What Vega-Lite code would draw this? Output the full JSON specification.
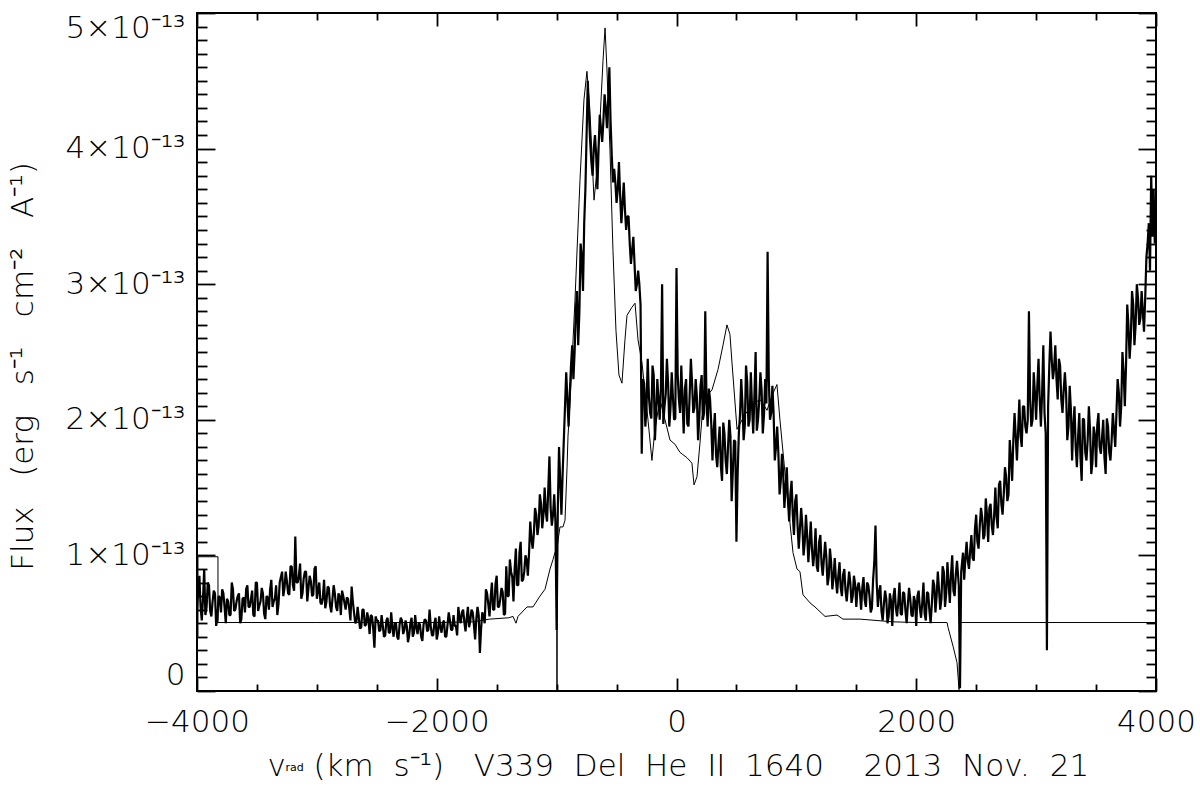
{
"$schema": "https://vega.github.io/schema/vega-lite/v6.json",
"width": 959, "height": 678,
"autosize": {"type": "none"},
"padding": {"left": 197, "top": 13, "right": 44, "bottom": 106},
"background": "white",
"config": {"view": {"stroke": "black", "strokeWidth": 2},
 "axis": {"grid": false, "domain": false, "tickColor": "black", "tickWidth": 1.8,
  "labelFont": "DejaVu Sans", "labelFontSize": 31, "labelFontWeight": 200, "labelColor": "black", "labelOverlap": false,
  "titleFont": "DejaVu Sans", "titleFontSize": 31, "titleFontWeight": 200, "titleColor": "black"}},
"datasets": {
"thick": [
{"v":-4000,"f":0.60},{"v":-3990,"f":0.75},{"v":-3980,"f":0.85},{"v":-3970,"f":0.62},{"v":-3960,"f":0.52},{"v":-3950,"f":0.68},{"v":-3940,"f":0.90},{"v":-3930,"f":0.56},{"v":-3920,"f":0.62},{"v":-3910,"f":0.80},
{"v":-3900,"f":0.78},{"v":-3890,"f":0.59},{"v":-3880,"f":0.55},{"v":-3870,"f":0.66},{"v":-3860,"f":0.74},{"v":-3850,"f":0.72},{"v":-3840,"f":0.48},{"v":-3830,"f":0.53},{"v":-3820,"f":0.70},{"v":-3810,"f":0.69},
{"v":-3800,"f":0.58},{"v":-3790,"f":0.75},{"v":-3780,"f":0.72},{"v":-3770,"f":0.62},{"v":-3760,"f":0.50},{"v":-3750,"f":0.68},{"v":-3740,"f":0.66},{"v":-3730,"f":0.56},{"v":-3720,"f":0.56},{"v":-3710,"f":0.80},
{"v":-3700,"f":0.75},{"v":-3690,"f":0.59},{"v":-3680,"f":0.60},{"v":-3670,"f":0.66},{"v":-3660,"f":0.70},{"v":-3650,"f":0.72},{"v":-3640,"f":0.50},{"v":-3630,"f":0.53},{"v":-3620,"f":0.68},{"v":-3610,"f":0.69},
{"v":-3600,"f":0.58},{"v":-3590,"f":0.75},{"v":-3580,"f":0.78},{"v":-3570,"f":0.62},{"v":-3560,"f":0.62},{"v":-3550,"f":0.68},{"v":-3540,"f":0.74},{"v":-3530,"f":0.56},{"v":-3520,"f":0.55},{"v":-3510,"f":0.80},
{"v":-3500,"f":0.80},{"v":-3490,"f":0.59},{"v":-3480,"f":0.63},{"v":-3470,"f":0.66},{"v":-3460,"f":0.76},{"v":-3450,"f":0.72},{"v":-3440,"f":0.57},{"v":-3430,"f":0.53},{"v":-3420,"f":0.70},{"v":-3410,"f":0.69},
{"v":-3400,"f":0.60},{"v":-3390,"f":0.75},{"v":-3380,"f":0.82},{"v":-3370,"f":0.62},{"v":-3360,"f":0.66},{"v":-3350,"f":0.68},{"v":-3340,"f":0.78},{"v":-3330,"f":0.56},{"v":-3320,"f":0.64},{"v":-3310,"f":0.80},
{"v":-3300,"f":0.84},{"v":-3290,"f":0.88},{"v":-3280,"f":0.70},{"v":-3270,"f":0.76},{"v":-3260,"f":0.88},{"v":-3250,"f":0.81},{"v":-3240,"f":0.72},{"v":-3230,"f":0.71},{"v":-3220,"f":0.92},{"v":-3210,"f":0.92},
{"v":-3200,"f":0.78},{"v":-3190,"f":0.74},{"v":-3180,"f":1.14},{"v":-3170,"f":0.80},{"v":-3160,"f":0.80},{"v":-3150,"f":0.85},{"v":-3140,"f":0.94},{"v":-3130,"f":0.68},{"v":-3120,"f":0.72},{"v":-3110,"f":0.83},
{"v":-3100,"f":0.88},{"v":-3090,"f":0.88},{"v":-3080,"f":0.66},{"v":-3070,"f":0.76},{"v":-3060,"f":0.85},{"v":-3050,"f":0.81},{"v":-3040,"f":0.70},{"v":-3030,"f":0.71},{"v":-3020,"f":0.90},{"v":-3010,"f":0.92},
{"v":-3000,"f":0.68},{"v":-2990,"f":0.74},{"v":-2980,"f":0.80},{"v":-2970,"f":0.65},{"v":-2960,"f":0.64},{"v":-2950,"f":0.69},{"v":-2940,"f":0.82},{"v":-2930,"f":0.61},{"v":-2920,"f":0.66},{"v":-2910,"f":0.77},
{"v":-2900,"f":0.76},{"v":-2890,"f":0.63},{"v":-2880,"f":0.58},{"v":-2870,"f":0.68},{"v":-2860,"f":0.78},{"v":-2850,"f":0.72},{"v":-2840,"f":0.62},{"v":-2830,"f":0.59},{"v":-2820,"f":0.72},{"v":-2810,"f":0.70},
{"v":-2800,"f":0.56},{"v":-2790,"f":0.74},{"v":-2780,"f":0.70},{"v":-2770,"f":0.65},{"v":-2760,"f":0.60},{"v":-2750,"f":0.69},{"v":-2740,"f":0.68},{"v":-2730,"f":0.61},{"v":-2720,"f":0.52},{"v":-2710,"f":0.77},
{"v":-2700,"f":0.66},{"v":-2690,"f":0.58},{"v":-2680,"f":0.50},{"v":-2670,"f":0.51},{"v":-2660,"f":0.62},{"v":-2650,"f":0.54},{"v":-2640,"f":0.46},{"v":-2630,"f":0.47},{"v":-2620,"f":0.60},{"v":-2610,"f":0.60},
{"v":-2600,"f":0.48},{"v":-2590,"f":0.49},{"v":-2580,"f":0.58},{"v":-2570,"f":0.53},{"v":-2560,"f":0.42},{"v":-2550,"f":0.56},{"v":-2540,"f":0.55},{"v":-2530,"f":0.46},{"v":-2520,"f":0.32},{"v":-2510,"f":0.55},
{"v":-2500,"f":0.52},{"v":-2490,"f":0.52},{"v":-2480,"f":0.44},{"v":-2470,"f":0.45},{"v":-2460,"f":0.56},{"v":-2450,"f":0.48},{"v":-2440,"f":0.40},{"v":-2430,"f":0.41},{"v":-2420,"f":0.52},{"v":-2410,"f":0.54},
{"v":-2400,"f":0.43},{"v":-2390,"f":0.43},{"v":-2380,"f":0.58},{"v":-2370,"f":0.47},{"v":-2360,"f":0.40},{"v":-2350,"f":0.50},{"v":-2340,"f":0.50},{"v":-2330,"f":0.40},{"v":-2320,"f":0.38},{"v":-2310,"f":0.49},
{"v":-2300,"f":0.54},{"v":-2290,"f":0.52},{"v":-2280,"f":0.42},{"v":-2270,"f":0.45},{"v":-2260,"f":0.52},{"v":-2250,"f":0.48},{"v":-2240,"f":0.36},{"v":-2230,"f":0.41},{"v":-2220,"f":0.50},{"v":-2210,"f":0.54},
{"v":-2200,"f":0.40},{"v":-2190,"f":0.43},{"v":-2180,"f":0.56},{"v":-2170,"f":0.47},{"v":-2160,"f":0.42},{"v":-2150,"f":0.50},{"v":-2140,"f":0.49},{"v":-2130,"f":0.40},{"v":-2120,"f":0.37},{"v":-2110,"f":0.49},
{"v":-2100,"f":0.53},{"v":-2090,"f":0.52},{"v":-2080,"f":0.44},{"v":-2070,"f":0.45},{"v":-2060,"f":0.60},{"v":-2050,"f":0.48},{"v":-2040,"f":0.41},{"v":-2030,"f":0.41},{"v":-2020,"f":0.50},{"v":-2010,"f":0.54},
{"v":-2000,"f":0.38},{"v":-1990,"f":0.43},{"v":-1980,"f":0.55},{"v":-1970,"f":0.47},{"v":-1960,"f":0.43},{"v":-1950,"f":0.50},{"v":-1940,"f":0.52},{"v":-1930,"f":0.40},{"v":-1920,"f":0.40},{"v":-1910,"f":0.49},
{"v":-1900,"f":0.58},{"v":-1890,"f":0.52},{"v":-1880,"f":0.45},{"v":-1870,"f":0.45},{"v":-1860,"f":0.56},{"v":-1850,"f":0.48},{"v":-1840,"f":0.48},{"v":-1830,"f":0.41},{"v":-1820,"f":0.62},{"v":-1810,"f":0.54},
{"v":-1800,"f":0.50},{"v":-1790,"f":0.58},{"v":-1780,"f":0.60},{"v":-1770,"f":0.51},{"v":-1760,"f":0.44},{"v":-1750,"f":0.54},{"v":-1740,"f":0.62},{"v":-1730,"f":0.47},{"v":-1720,"f":0.52},{"v":-1710,"f":0.60},
{"v":-1700,"f":0.58},{"v":-1690,"f":0.49},{"v":-1680,"f":0.38},{"v":-1670,"f":0.53},{"v":-1660,"f":0.62},{"v":-1650,"f":0.56},{"v":-1640,"f":0.28},{"v":-1630,"f":0.46},{"v":-1620,"f":0.58},{"v":-1610,"f":0.55},
{"v":-1600,"f":0.50},{"v":-1590,"f":0.75},{"v":-1580,"f":0.72},{"v":-1570,"f":0.64},{"v":-1560,"f":0.55},{"v":-1550,"f":0.69},{"v":-1540,"f":0.80},{"v":-1530,"f":0.60},{"v":-1520,"f":0.60},{"v":-1510,"f":0.79},
{"v":-1500,"f":0.85},{"v":-1490,"f":0.62},{"v":-1480,"f":0.62},{"v":-1470,"f":0.68},{"v":-1460,"f":0.76},{"v":-1450,"f":0.73},{"v":-1440,"f":0.56},{"v":-1430,"f":0.57},{"v":-1420,"f":0.92},{"v":-1410,"f":0.70},
{"v":-1400,"f":0.70},{"v":-1390,"f":0.97},{"v":-1380,"f":0.88},{"v":-1370,"f":0.84},{"v":-1360,"f":0.66},{"v":-1350,"f":0.90},{"v":-1340,"f":1.05},{"v":-1330,"f":0.78},{"v":-1320,"f":0.78},{"v":-1310,"f":1.02},
{"v":-1300,"f":1.10},{"v":-1290,"f":0.81},{"v":-1280,"f":0.82},{"v":-1270,"f":0.88},{"v":-1260,"f":1.00},{"v":-1250,"f":0.97},{"v":-1240,"f":0.85},{"v":-1230,"f":1.02},{"v":-1220,"f":1.25},{"v":-1210,"f":1.12},
{"v":-1200,"f":1.05},{"v":-1190,"f":1.16},{"v":-1180,"f":1.35},{"v":-1170,"f":1.30},{"v":-1160,"f":1.15},{"v":-1150,"f":1.22},{"v":-1140,"f":1.45},{"v":-1130,"f":1.38},{"v":-1120,"f":1.20},{"v":-1110,"f":1.30},
{"v":-1100,"f":1.50},{"v":-1090,"f":1.32},{"v":-1080,"f":1.25},{"v":-1070,"f":1.48},{"v":-1060,"f":1.73},{"v":-1050,"f":1.35},{"v":-1040,"f":1.22},{"v":-1030,"f":1.30},{"v":-1020,"f":1.45},{"v":-1010,"f":1.25},
{"v":-1000,"f":0.45},{"v":-990,"f":1.35},{"v":-980,"f":1.80},{"v":-970,"f":1.55},{"v":-960,"f":1.30},{"v":-950,"f":1.60},{"v":-940,"f":1.85},{"v":-930,"f":2.10},{"v":-920,"f":2.35},{"v":-910,"f":2.15},
{"v":-900,"f":1.95},{"v":-890,"f":2.20},{"v":-880,"f":2.40},{"v":-870,"f":2.55},{"v":-860,"f":2.30},{"v":-850,"f":2.50},{"v":-840,"f":2.80},{"v":-830,"f":2.95},{"v":-820,"f":2.55},{"v":-810,"f":2.80},
{"v":-800,"f":3.30},{"v":-790,"f":3.20},{"v":-780,"f":2.95},{"v":-770,"f":3.45},{"v":-760,"f":3.70},{"v":-750,"f":4.10},{"v":-740,"f":4.50},{"v":-730,"f":4.25},{"v":-720,"f":4.05},{"v":-710,"f":3.90},
{"v":-700,"f":3.80},{"v":-690,"f":4.00},{"v":-680,"f":4.10},{"v":-670,"f":3.95},{"v":-660,"f":3.70},{"v":-650,"f":4.00},{"v":-640,"f":4.25},{"v":-630,"f":4.15},{"v":-620,"f":4.05},{"v":-610,"f":4.20},
{"v":-600,"f":4.40},{"v":-590,"f":4.30},{"v":-580,"f":4.15},{"v":-570,"f":4.35},{"v":-560,"f":4.60},{"v":-550,"f":4.20},{"v":-540,"f":3.95},{"v":-530,"f":3.75},{"v":-520,"f":3.85},{"v":-510,"f":3.75},
{"v":-500,"f":3.60},{"v":-490,"f":3.70},{"v":-480,"f":3.90},{"v":-470,"f":3.65},{"v":-460,"f":3.45},{"v":-450,"f":3.60},{"v":-440,"f":3.75},{"v":-430,"f":3.55},{"v":-420,"f":3.40},{"v":-410,"f":3.50},
{"v":-400,"f":3.50},{"v":-390,"f":3.30},{"v":-380,"f":3.15},{"v":-370,"f":3.25},{"v":-360,"f":3.35},{"v":-350,"f":3.15},{"v":-340,"f":2.95},{"v":-330,"f":3.00},{"v":-320,"f":3.10},{"v":-310,"f":3.00},
{"v":-300,"f":2.85},{"v":-290,"f":1.75},{"v":-280,"f":2.30},{"v":-270,"f":2.27},{"v":-260,"f":1.95},{"v":-250,"f":2.09},{"v":-240,"f":2.45},{"v":-230,"f":2.17},{"v":-220,"f":2.05},{"v":-210,"f":2.01},
{"v":-200,"f":2.40},{"v":-190,"f":2.33},{"v":-180,"f":1.85},{"v":-170,"f":2.05},{"v":-160,"f":2.30},{"v":-150,"f":2.15},{"v":-140,"f":2.00},{"v":-130,"f":2.23},{"v":-120,"f":3.00},{"v":-110,"f":1.97},
{"v":-100,"f":2.10},{"v":-90,"f":2.19},{"v":-80,"f":2.45},{"v":-70,"f":2.27},{"v":-60,"f":1.95},{"v":-50,"f":2.09},{"v":-40,"f":2.35},{"v":-30,"f":2.17},{"v":-20,"f":2.00},{"v":-10,"f":2.01},
{"v":0,"f":3.12},{"v":10,"f":2.33},{"v":20,"f":2.15},{"v":30,"f":2.05},{"v":40,"f":2.40},{"v":50,"f":2.15},{"v":60,"f":1.90},{"v":70,"f":2.23},{"v":80,"f":2.30},{"v":90,"f":1.97},
{"v":100,"f":1.95},{"v":110,"f":2.19},{"v":120,"f":2.45},{"v":130,"f":2.27},{"v":140,"f":2.05},{"v":150,"f":2.09},{"v":160,"f":2.30},{"v":170,"f":2.17},{"v":180,"f":1.85},{"v":190,"f":2.01},
{"v":200,"f":2.25},{"v":210,"f":2.33},{"v":220,"f":2.00},{"v":230,"f":2.05},{"v":240,"f":2.80},{"v":250,"f":2.15},{"v":260,"f":1.95},{"v":270,"f":2.23},{"v":280,"f":2.15},{"v":290,"f":1.97},
{"v":300,"f":1.70},{"v":310,"f":1.92},{"v":320,"f":2.05},{"v":330,"f":1.74},{"v":340,"f":1.65},{"v":350,"f":1.82},{"v":360,"f":1.95},{"v":370,"f":1.66},{"v":380,"f":1.55},{"v":390,"f":1.98},
{"v":400,"f":1.90},{"v":410,"f":1.70},{"v":420,"f":1.60},{"v":430,"f":1.80},{"v":440,"f":2.00},{"v":450,"f":1.88},{"v":460,"f":1.40},{"v":470,"f":1.62},{"v":480,"f":1.85},{"v":490,"f":1.84},
{"v":500,"f":1.10},{"v":510,"f":1.60},{"v":520,"f":1.90},{"v":530,"f":2.04},{"v":540,"f":2.30},{"v":550,"f":2.12},{"v":560,"f":1.85},{"v":570,"f":1.96},{"v":580,"f":2.40},{"v":590,"f":2.28},
{"v":600,"f":1.95},{"v":610,"f":2.00},{"v":620,"f":2.35},{"v":630,"f":2.10},{"v":640,"f":1.90},{"v":650,"f":2.18},{"v":660,"f":2.50},{"v":670,"f":1.92},{"v":680,"f":2.00},{"v":690,"f":2.14},
{"v":700,"f":2.35},{"v":710,"f":2.22},{"v":720,"f":1.90},{"v":730,"f":2.04},{"v":740,"f":2.30},{"v":750,"f":2.12},{"v":760,"f":3.24},{"v":770,"f":2.30},{"v":780,"f":2.00},{"v":790,"f":2.05},
{"v":800,"f":2.25},{"v":810,"f":2.05},{"v":820,"f":1.70},{"v":830,"f":1.80},{"v":840,"f":1.95},{"v":850,"f":1.75},{"v":860,"f":1.45},{"v":870,"f":1.55},{"v":880,"f":1.75},{"v":890,"f":1.60},
{"v":900,"f":1.35},{"v":910,"f":1.50},{"v":920,"f":1.65},{"v":930,"f":1.40},{"v":940,"f":1.25},{"v":950,"f":1.45},{"v":960,"f":1.55},{"v":970,"f":1.30},{"v":980,"f":1.15},{"v":990,"f":1.40},
{"v":1000,"f":1.45},{"v":1010,"f":1.22},{"v":1020,"f":1.05},{"v":1030,"f":1.20},{"v":1040,"f":1.35},{"v":1050,"f":1.22},{"v":1060,"f":1.00},{"v":1070,"f":1.10},{"v":1080,"f":1.30},{"v":1090,"f":1.15},
{"v":1100,"f":0.95},{"v":1110,"f":1.09},{"v":1120,"f":1.25},{"v":1130,"f":1.05},{"v":1140,"f":0.92},{"v":1150,"f":1.02},{"v":1160,"f":1.20},{"v":1170,"f":0.92},{"v":1180,"f":0.88},{"v":1190,"f":1.10},
{"v":1200,"f":1.15},{"v":1210,"f":0.94},{"v":1220,"f":0.85},{"v":1230,"f":0.98},{"v":1240,"f":1.10},{"v":1250,"f":0.99},{"v":1260,"f":0.78},{"v":1270,"f":0.84},{"v":1280,"f":1.05},{"v":1290,"f":0.95},
{"v":1300,"f":0.75},{"v":1310,"f":0.84},{"v":1320,"f":0.98},{"v":1330,"f":0.82},{"v":1340,"f":0.72},{"v":1350,"f":0.85},{"v":1360,"f":0.95},{"v":1370,"f":0.76},{"v":1380,"f":0.70},{"v":1390,"f":0.86},
{"v":1400,"f":0.90},{"v":1410,"f":0.74},{"v":1420,"f":0.66},{"v":1430,"f":0.77},{"v":1440,"f":0.88},{"v":1450,"f":0.80},{"v":1460,"f":0.65},{"v":1470,"f":0.70},{"v":1480,"f":0.85},{"v":1490,"f":0.79},
{"v":1500,"f":0.62},{"v":1510,"f":0.76},{"v":1520,"f":0.80},{"v":1530,"f":0.73},{"v":1540,"f":0.60},{"v":1550,"f":0.76},{"v":1560,"f":0.84},{"v":1570,"f":0.67},{"v":1580,"f":0.62},{"v":1590,"f":0.80},
{"v":1600,"f":0.78},{"v":1610,"f":0.70},{"v":1620,"f":0.58},{"v":1630,"f":0.61},{"v":1640,"f":0.82},{"v":1650,"f":0.95},{"v":1660,"f":1.22},{"v":1670,"f":0.80},{"v":1680,"f":0.62},{"v":1690,"f":0.73},
{"v":1700,"f":0.78},{"v":1710,"f":0.59},{"v":1720,"f":0.52},{"v":1730,"f":0.64},{"v":1740,"f":0.74},{"v":1750,"f":0.68},{"v":1760,"f":0.50},{"v":1770,"f":0.55},{"v":1780,"f":0.72},{"v":1790,"f":0.66},
{"v":1800,"f":0.48},{"v":1810,"f":0.70},{"v":1820,"f":0.76},{"v":1830,"f":0.61},{"v":1840,"f":0.55},{"v":1850,"f":0.65},{"v":1860,"f":0.80},{"v":1870,"f":0.57},{"v":1880,"f":0.56},{"v":1890,"f":0.73},
{"v":1900,"f":0.72},{"v":1910,"f":0.59},{"v":1920,"f":0.50},{"v":1930,"f":0.64},{"v":1940,"f":0.76},{"v":1950,"f":0.68},{"v":1960,"f":0.56},{"v":1970,"f":0.55},{"v":1980,"f":0.70},{"v":1990,"f":0.66},
{"v":2000,"f":0.48},{"v":2010,"f":0.70},{"v":2020,"f":0.74},{"v":2030,"f":0.61},{"v":2040,"f":0.54},{"v":2050,"f":0.65},{"v":2060,"f":0.80},{"v":2070,"f":0.57},{"v":2080,"f":0.52},{"v":2090,"f":0.73},
{"v":2100,"f":0.72},{"v":2110,"f":0.59},{"v":2120,"f":0.50},{"v":2130,"f":0.64},{"v":2140,"f":0.82},{"v":2150,"f":0.78},{"v":2160,"f":0.58},{"v":2170,"f":0.70},{"v":2180,"f":0.88},{"v":2190,"f":0.75},
{"v":2200,"f":0.60},{"v":2210,"f":0.68},{"v":2220,"f":0.92},{"v":2230,"f":0.88},{"v":2240,"f":0.62},{"v":2250,"f":0.72},{"v":2260,"f":0.95},{"v":2270,"f":0.80},{"v":2280,"f":0.65},{"v":2290,"f":0.86},
{"v":2300,"f":1.00},{"v":2310,"f":0.74},{"v":2320,"f":0.70},{"v":2330,"f":0.86},{"v":2340,"f":0.96},{"v":2345,"f":0.90},{"v":2355,"f":0.78},{"v":2365,"f":0.02},{"v":2375,"f":0.88},{"v":2390,"f":1.02},
{"v":2400,"f":0.82},{"v":2410,"f":0.98},{"v":2420,"f":1.10},{"v":2430,"f":0.96},{"v":2440,"f":0.90},{"v":2450,"f":1.04},{"v":2460,"f":1.15},{"v":2470,"f":0.98},{"v":2480,"f":0.96},{"v":2490,"f":1.20},
{"v":2500,"f":1.30},{"v":2510,"f":1.10},{"v":2520,"f":1.05},{"v":2530,"f":1.22},{"v":2540,"f":1.35},{"v":2550,"f":1.28},{"v":2560,"f":1.12},{"v":2570,"f":1.15},{"v":2580,"f":1.42},{"v":2590,"f":1.30},
{"v":2600,"f":1.10},{"v":2610,"f":1.35},{"v":2620,"f":1.38},{"v":2630,"f":1.22},{"v":2640,"f":1.15},{"v":2650,"f":1.30},{"v":2660,"f":1.50},{"v":2670,"f":1.28},{"v":2680,"f":1.20},{"v":2690,"f":1.52},
{"v":2700,"f":1.55},{"v":2710,"f":1.38},{"v":2720,"f":1.30},{"v":2730,"f":1.45},{"v":2740,"f":1.65},{"v":2750,"f":1.58},{"v":2760,"f":1.40},{"v":2770,"f":1.45},{"v":2780,"f":1.85},{"v":2790,"f":1.72},
{"v":2800,"f":1.55},{"v":2810,"f":1.85},{"v":2820,"f":2.05},{"v":2830,"f":1.88},{"v":2840,"f":1.70},{"v":2850,"f":1.92},{"v":2860,"f":2.15},{"v":2870,"f":1.88},{"v":2880,"f":1.80},{"v":2890,"f":2.10},
{"v":2900,"f":2.10},{"v":2910,"f":1.95},{"v":2920,"f":1.90},{"v":2930,"f":2.00},{"v":2940,"f":2.80},{"v":2950,"f":2.15},{"v":2960,"f":1.95},{"v":2970,"f":2.00},{"v":2980,"f":2.35},{"v":2990,"f":2.20},
{"v":3000,"f":2.00},{"v":3010,"f":2.25},{"v":3020,"f":2.45},{"v":3030,"f":2.15},{"v":3040,"f":1.95},{"v":3050,"f":2.20},{"v":3060,"f":2.55},{"v":3070,"f":2.05},{"v":3080,"f":1.90},{"v":3090,"f":0.30},
{"v":3100,"f":2.10},{"v":3110,"f":2.40},{"v":3120,"f":2.65},{"v":3130,"f":2.45},{"v":3140,"f":2.30},{"v":3150,"f":2.38},{"v":3160,"f":2.55},{"v":3170,"f":2.30},{"v":3180,"f":2.15},{"v":3190,"f":2.45},
{"v":3200,"f":2.40},{"v":3210,"f":2.15},{"v":3220,"f":2.05},{"v":3230,"f":2.22},{"v":3240,"f":2.35},{"v":3250,"f":2.20},{"v":3260,"f":1.85},{"v":3270,"f":1.95},{"v":3280,"f":2.25},{"v":3290,"f":2.08},
{"v":3300,"f":1.70},{"v":3310,"f":1.96},{"v":3320,"f":2.10},{"v":3330,"f":1.80},{"v":3340,"f":1.65},{"v":3350,"f":1.87},{"v":3360,"f":2.05},{"v":3370,"f":1.72},{"v":3380,"f":1.55},{"v":3390,"f":2.01},
{"v":3400,"f":2.00},{"v":3410,"f":1.76},{"v":3420,"f":1.70},{"v":3430,"f":1.85},{"v":3440,"f":2.10},{"v":3450,"f":1.92},{"v":3460,"f":1.60},{"v":3470,"f":1.69},{"v":3480,"f":1.95},{"v":3490,"f":1.89},
{"v":3500,"f":1.65},{"v":3510,"f":1.96},{"v":3520,"f":2.05},{"v":3530,"f":1.80},{"v":3540,"f":1.75},{"v":3550,"f":1.87},{"v":3560,"f":2.00},{"v":3570,"f":1.72},{"v":3580,"f":1.60},{"v":3590,"f":2.01},
{"v":3600,"f":1.95},{"v":3610,"f":1.76},{"v":3620,"f":1.70},{"v":3630,"f":1.85},{"v":3640,"f":2.05},{"v":3650,"f":1.92},{"v":3660,"f":1.80},{"v":3670,"f":2.05},{"v":3680,"f":2.30},{"v":3690,"f":2.20},
{"v":3700,"f":1.95},{"v":3710,"f":2.10},{"v":3720,"f":2.50},{"v":3730,"f":2.35},{"v":3740,"f":2.10},{"v":3750,"f":2.40},{"v":3760,"f":2.85},{"v":3770,"f":2.70},{"v":3780,"f":2.45},{"v":3790,"f":2.60},
{"v":3800,"f":2.95},{"v":3810,"f":2.85},{"v":3820,"f":2.55},{"v":3830,"f":2.70},{"v":3840,"f":3.00},{"v":3850,"f":2.90},{"v":3860,"f":2.70},{"v":3870,"f":2.75},{"v":3880,"f":2.95},{"v":3890,"f":2.80},
{"v":3900,"f":2.65},{"v":3910,"f":2.90},{"v":3920,"f":3.20},{"v":3930,"f":3.30},{"v":3940,"f":3.45},{"v":3950,"f":3.10},{"v":3960,"f":3.80},{"v":3970,"f":3.35},{"v":3980,"f":3.70},{"v":3990,"f":3.30},
{"v":4000,"f":3.45}
],
"thin": [
{"v":-3992,"f":0.40},{"v":-3992,"f":0.99},{"v":-3825,"f":0.99},{"v":-3825,"f":0.505},{"v":-3000,"f":0.505},{"v":-2000,"f":0.505},{"v":-1700,"f":0.51},{"v":-1560,"f":0.53},{"v":-1400,"f":0.54},{"v":-1364,"f":0.55},
{"v":-1339,"f":0.50},{"v":-1322,"f":0.55},{"v":-1247,"f":0.62},{"v":-1197,"f":0.62},{"v":-1139,"f":0.70},{"v":-1097,"f":0.75},{"v":-1055,"f":0.90},{"v":-1030,"f":0.97},{"v":-1014,"f":1.02},{"v":-1001,"f":1.05},
{"v":-997,"f":0.01},{"v":-993,"f":1.08},{"v":-972,"f":1.21},{"v":-947,"f":1.21},{"v":-930,"f":1.26},{"v":-913,"f":1.65},{"v":-905,"f":1.88},{"v":-888,"f":2.13},{"v":-847,"f":2.88},{"v":-805,"f":3.77},
{"v":-772,"f":4.36},{"v":-747,"f":4.57},{"v":-722,"f":4.28},{"v":-688,"f":3.62},{"v":-663,"f":3.84},{"v":-638,"f":4.21},{"v":-613,"f":4.65},{"v":-596,"f":4.89},{"v":-580,"f":4.58},{"v":-555,"f":3.99},
{"v":-530,"f":3.25},{"v":-505,"f":2.66},{"v":-480,"f":2.33},{"v":-455,"f":2.27},{"v":-430,"f":2.59},{"v":-413,"f":2.77},{"v":-372,"f":2.83},{"v":-346,"f":2.86},{"v":-321,"f":2.59},{"v":-288,"f":2.42},
{"v":-238,"f":2.00},{"v":-205,"f":1.70},{"v":-180,"f":1.93},{"v":-138,"f":2.15},{"v":-96,"f":2.00},{"v":-54,"f":1.85},{"v":-13,"f":1.82},{"v":29,"f":1.76},{"v":88,"f":1.72},{"v":129,"f":1.68},
{"v":146,"f":1.52},{"v":171,"f":1.58},{"v":196,"f":1.83},{"v":213,"f":2.02},{"v":254,"f":2.18},{"v":296,"f":2.22},{"v":346,"f":2.37},{"v":388,"f":2.55},{"v":421,"f":2.70},{"v":446,"f":2.63},
{"v":463,"f":2.42},{"v":505,"f":1.93},{"v":572,"f":2.04},{"v":630,"f":2.11},{"v":697,"f":2.15},{"v":755,"f":2.07},{"v":797,"f":2.18},{"v":838,"f":2.26},{"v":863,"f":2.00},{"v":922,"f":1.45},
{"v":972,"f":1.02},{"v":1005,"f":0.90},{"v":1030,"f":0.88},{"v":1055,"f":0.71},{"v":1114,"f":0.65},{"v":1155,"f":0.62},{"v":1239,"f":0.55},{"v":1339,"f":0.56},{"v":1389,"f":0.53},{"v":1531,"f":0.53},
{"v":1806,"f":0.51},{"v":2006,"f":0.505},{"v":2257,"f":0.505},{"v":2265,"f":0.47},{"v":2307,"f":0.33},{"v":2340,"f":0.21},{"v":2357,"f":0.01},{"v":2365,"f":0.505},{"v":4000,"f":0.505}
]
},
"layer": [
{
 "data": {"name": "thick"},
 "mark": {"type": "line", "color": "black", "strokeWidth": 2.2, "strokeJoin": "bevel", "clip": true},
 "encoding": {
  "x": {"field": "v", "type": "quantitative", "scale": {"domain": [-4000, 4000], "nice": false, "zero": false},
   "axis": {"orient": "bottom", "values": [-4000,-2000,0,2000,4000], "tickSize": 13, "offset": -13, "labelFlush": false,
    "labelExpr": "format(datum.value, 'd')", "labelPadding": 40, "labelBaseline": "alphabetic",
    "title": "(km\u00a0\u00a0s⁻¹)\u00a0\u00a0\u00a0V339\u00a0\u00a0Del\u00a0\u00a0He\u00a0\u00a0II\u00a0\u00a01640\u00a0\u00a0\u00a0\u00a02013\u00a0\u00a0Nov.\u00a0\u00a021",
    "titleX": 116, "titleY": 97, "titleBaseline": "alphabetic", "titleAlign": "left"}},
  "y": {"field": "f", "type": "quantitative", "scale": {"domain": [0, 5], "nice": false, "zero": false},
   "axis": {"orient": "left", "values": [0,1,2,3,4,5], "tickSize": 18, "offset": -18,
    "labelExpr": "datum.value == 0 ? '0' : format(datum.value, 'd') + '×10⁻¹³'",
    "labelFlush": true, "labelFlushOffset": 0, "labelPadding": 12,
    "title": "Flux\u00a0\u00a0\u00a0(erg\u00a0\u00a0\u00a0s⁻¹\u00a0\u00a0\u00a0cm⁻²\u00a0\u00a0\u00a0A⁻¹)", "titleAngle": -90, "titleX": -183, "titleY": 353, "titleBaseline": "alphabetic", "titleAlign": "center"}},
  "order": {"value": null}
 }
},
{
 "data": {"name": "thin"},
 "mark": {"type": "line", "color": "black", "strokeWidth": 1, "strokeJoin": "bevel", "clip": true},
 "encoding": {
  "x": {"field": "v", "type": "quantitative", "scale": {"domain": [-4000, 4000], "nice": false, "zero": false},
   "axis": {"orient": "bottom", "values": [-3500,-3000,-2500,-1500,-1000,-500,500,1000,1500,2500,3000,3500], "tickSize": 7, "offset": -7, "labels": false,
    "title": "v", "titleX": 70, "titleY": 91, "titleBaseline": "alphabetic", "titleAlign": "left"}},
  "y": {"field": "f", "type": "quantitative", "scale": {"domain": [0, 5], "nice": false, "zero": false},
   "axis": {"orient": "left", "values": [0.1,0.2,0.3,0.4,0.5,0.6,0.7,0.8,0.9,1.1,1.2,1.3,1.4,1.5,1.6,1.7,1.8,1.9,2.1,2.2,2.3,2.4,2.5,2.6,2.7,2.8,2.9,3.1,3.2,3.3,3.4,3.5,3.6,3.7,3.8,3.9,4.1,4.2,4.3,4.4,4.5,4.6,4.7,4.8,4.9], "tickSize": 10, "offset": -10, "labels": false, "title": null}},
  "order": {"value": null}
 }
},
{
 "data": {"name": "thin"},
 "mark": {"type": "line", "opacity": 0},
 "encoding": {
  "x": {"field": "v", "type": "quantitative", "scale": {"domain": [-4000, 4000], "nice": false, "zero": false},
   "axis": {"orient": "top", "values": [-4000,-2000,0,2000,4000], "tickSize": 13, "offset": -13, "labels": false,
    "title": "rad", "titleFontSize": 11, "titleFontWeight": 400, "titleX": 97, "titleY": 744, "titleBaseline": "alphabetic", "titleAlign": "center"}},
  "y": {"field": "f", "type": "quantitative", "scale": {"domain": [0, 5], "nice": false, "zero": false},
   "axis": {"orient": "right", "values": [0,1,2,3,4,5], "tickSize": 18, "offset": -18, "labels": false, "title": null}},
  "order": {"value": null}
 }
},
{
 "data": {"name": "thin"},
 "mark": {"type": "line", "opacity": 0},
 "encoding": {
  "x": {"field": "v", "type": "quantitative", "scale": {"domain": [-4000, 4000], "nice": false, "zero": false},
   "axis": {"orient": "top", "values": [-3500,-3000,-2500,-1500,-1000,-500,500,1000,1500,2500,3000,3500], "tickSize": 7, "offset": -7, "labels": false, "title": null}},
  "y": {"field": "f", "type": "quantitative", "scale": {"domain": [0, 5], "nice": false, "zero": false},
   "axis": {"orient": "right", "values": [0.1,0.2,0.3,0.4,0.5,0.6,0.7,0.8,0.9,1.1,1.2,1.3,1.4,1.5,1.6,1.7,1.8,1.9,2.1,2.2,2.3,2.4,2.5,2.6,2.7,2.8,2.9,3.1,3.2,3.3,3.4,3.5,3.6,3.7,3.8,3.9,4.1,4.2,4.3,4.4,4.5,4.6,4.7,4.8,4.9], "tickSize": 10, "offset": -10, "labels": false, "title": null}},
  "order": {"value": null}
 }
}
],
"resolve": {"axis": {"x": "independent", "y": "independent"}}
}
